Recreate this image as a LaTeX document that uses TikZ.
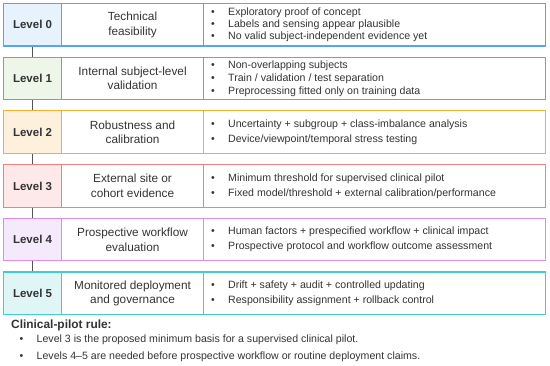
\documentclass[tikz,border=0pt]{standalone}
\usepackage{fontspec}
\setmainfont{Liberation Sans}
\usetikzlibrary{positioning}
\definecolor{inkgray}{HTML}{333333}
\definecolor{linkgray}{HTML}{555555}
\definecolor{edge0}{HTML}{55A6F2}\definecolor{fill0}{HTML}{E8F2FC}
\definecolor{edge1}{HTML}{70BE40}\definecolor{fill1}{HTML}{EEF6E9}
\definecolor{edge2}{HTML}{F6AE2D}\definecolor{fill2}{HTML}{FDF1DE}
\definecolor{edge3}{HTML}{F47F7F}\definecolor{fill3}{HTML}{FDE9E9}
\definecolor{edge4}{HTML}{DC8BEF}\definecolor{fill4}{HTML}{F4EAFB}
\definecolor{edge5}{HTML}{3ECECE}\definecolor{fill5}{HTML}{E0F6F6}
\newcommand{\bitem}[1]{\makebox[17pt][l]{\textbullet}#1}
\tikzset{
    cell/.style={draw, line width=1.1pt, inner sep=0pt, minimum height=42.5pt,
        anchor=north west, text=inkgray},
    levelcell/.style={cell, minimum width=58pt, font=\fontsize{11.5}{13}\selectfont\bfseries},
    stagecell/.style={cell, minimum width=142pt, align=center,
        font=\fontsize{11.8}{14.5}\selectfont},
    notecell/.style={cell, minimum width=342pt},
    notetext/.style={anchor=west, inner sep=0pt, align=left, text=inkgray},
    link/.style={draw=linkgray, line width=0.9pt},
}
\begin{document}
\begin{tikzpicture}[x=1pt, y=-1pt]
    \useasboundingbox (0,0) rectangle (550,366);
    % level rows
    \foreach \i/\stage/\notes/\lsk in {
        0/{Technical\\feasibility}/{\bitem{Exploratory proof of concept}\\\bitem{Labels and sensing appear plausible}\\\bitem{No valid subject-independent evidence yet}}/12.2,
        1/{Internal subject-level\\validation}/{\bitem{Non-overlapping subjects}\\\bitem{Train / validation / test separation}\\\bitem{Preprocessing fitted only on training data}}/12.8,
        2/{Robustness and\\calibration}/{\bitem{Uncertainty + subgroup + class-imbalance analysis}\\\bitem{Device/viewpoint/temporal stress testing}}/15,
        3/{External site or\\cohort evidence}/{\bitem{Minimum threshold for supervised clinical pilot}\\\bitem{Fixed model/threshold + external calibration/performance}}/15,
        4/{Prospective workflow\\evaluation}/{\bitem{Human factors + prespecified workflow + clinical impact}\\\bitem{Prospective protocol and workflow outcome assessment}}/15,
        5/{Monitored deployment\\and governance}/{\bitem{Drift + safety + audit + controlled updating}\\\bitem{Responsibility assignment + rollback control}}/15}
    {
        \node[levelcell, draw=edge\i, fill=fill\i] (lv\i) at (3,3+53.7*\i) {Level \i};
        \node[stagecell, draw=edge\i] (st\i) at (61,3+53.7*\i) {\stage};
        \node[notecell, draw=edge\i] (nt\i) at (203,3+53.7*\i) {};
        \node[notetext, font=\fontsize{10.6}{\lsk}\selectfont] (tx\i)
            at ([xshift=8pt]nt\i.west) {\notes};
    }
    % connectors
    \foreach \i [evaluate=\i as \j using int(\i+1)] in {0,...,4}
        \draw[link] (lv\i.south) -- (lv\j.north);
    % rule
    \node[anchor=west, inner sep=0pt, text=inkgray,
        font=\fontsize{11.9}{14}\selectfont\bfseries] (rule) at (11,325) {Clinical-pilot rule:};
    \node[anchor=west, inner sep=0pt, align=left, text=inkgray,
        font=\fontsize{10.6}{16.7}\selectfont] (ruletx) at (19.5,348.3)
        {\bitem{Level 3 is the proposed minimum basis for a supervised clinical pilot.}\\
         \bitem{Levels 4--5 are needed before prospective workflow or routine deployment claims.}};
\end{tikzpicture}
\end{document}
